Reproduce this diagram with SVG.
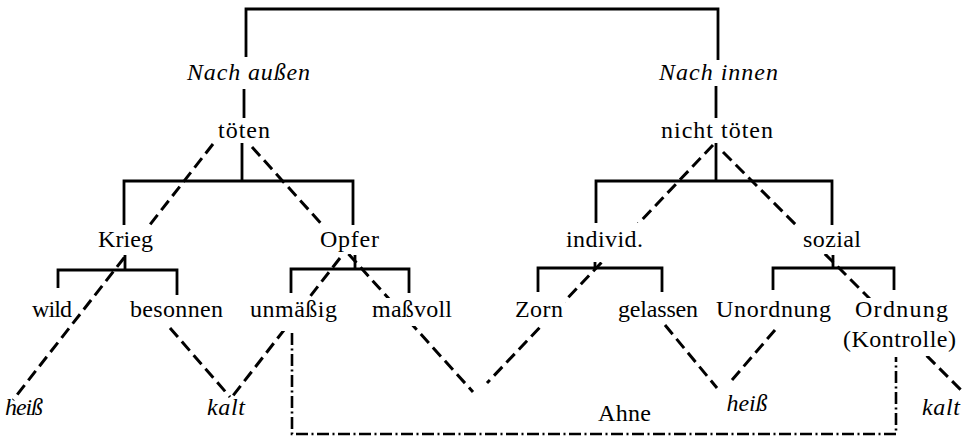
<svg xmlns="http://www.w3.org/2000/svg" width="966" height="437" viewBox="0 0 966 437">
<style>
text{font-family:"Liberation Serif",serif;font-size:24px;fill:#000;text-anchor:middle}
.i{font-style:italic}
.s{stroke:#000;stroke-width:2.8;fill:none}
.d{stroke-width:3;stroke-dasharray:12 6}
.dd{stroke-width:2.6;stroke-dasharray:12 3.5 2 3.5}
</style>
<defs>
<mask id="m" maskUnits="userSpaceOnUse" x="0" y="0" width="966" height="437">
<rect x="0" y="0" width="966" height="437" fill="#fff"/>
<rect x="96" y="226" width="60" height="28" fill="#000"/>
<rect x="318" y="226" width="63" height="28" fill="#000"/>
<rect x="248" y="299" width="91" height="32" fill="#000"/>
<rect x="370" y="298" width="84" height="28" fill="#000"/>
<rect x="562" y="223" width="85" height="39" fill="#000"/>
<rect x="513" y="298" width="52" height="28" fill="#000"/>
<rect x="795" y="226" width="68" height="28" fill="#000"/>
<rect x="841" y="298" width="117" height="58" fill="#000"/>
</mask>
</defs>
<rect width="966" height="437" fill="#fff"/>
<g id="connectors" mask="url(#m)">
<path class="s" d="M246,57 V9 H718 V60"/>
<path class="s" d="M244,89 V118"/>
<path class="s" d="M716,86 V118"/>
<path class="s" d="M242,143 V181 M124,225 V181 H353 V225"/>
<path class="s" d="M716,143 V181 M596,225 V181 H832 V225"/>
<path class="s" d="M125,255 V270 M58,288 V270 H177 V295"/>
<path class="s" d="M355,255 V269 M291,293 V269 H409 V293"/>
<path class="s" d="M595,252 V268 M538,292 V268 H662 V292"/>
<path class="s" d="M833,255 V268 M773,290 V268 H894 V290"/>
<path class="s d" d="M213,144 L13,400"/>
<path class="s d" d="M252,147 L473,392"/>
<path class="s d" d="M340,258 L232,397"/>
<path class="s d" d="M170,328 L230,397"/>
<path class="s d" d="M713,145 L487,383"/>
<path class="s d" d="M723,152 L963,392"/>
<path class="s d" d="M665,325 L717,388"/>
<path class="s d" d="M775,330 L732,380"/>
<path class="s dd" d="M292,333 V434 H896 V357"/>
</g>
<g id="n-nach-aussen"><text class="i" x="248.5" y="80" textLength="123" lengthAdjust="spacing">Nach außen</text></g>
<g id="n-nach-innen"><text class="i" x="718.5" y="80" textLength="119" lengthAdjust="spacing">Nach innen</text></g>
<g id="n-toeten"><text x="244" y="138" textLength="52" lengthAdjust="spacing">töten</text></g>
<g id="n-nicht-toeten"><text x="717" y="138" textLength="112" lengthAdjust="spacing">nicht töten</text></g>
<g id="n-krieg"><text x="125.5" y="247" textLength="55" lengthAdjust="spacing">Krieg</text></g>
<g id="n-opfer"><text x="349.5" y="247" textLength="59" lengthAdjust="spacing">Opfer</text></g>
<g id="n-individ"><text x="604.5" y="247" textLength="77" lengthAdjust="spacing">individ.</text></g>
<g id="n-sozial"><text x="832" y="247" textLength="58" lengthAdjust="spacing">sozial</text></g>
<g id="n-wild"><text x="52" y="317" textLength="40" lengthAdjust="spacing">wild</text></g>
<g id="n-besonnen"><text x="176.5" y="317" textLength="93" lengthAdjust="spacing">besonnen</text></g>
<g id="n-unmaessig"><text x="293.5" y="317" textLength="87" lengthAdjust="spacing">unmäßig</text></g>
<g id="n-massvoll"><text x="412" y="317" textLength="80" lengthAdjust="spacing">maßvoll</text></g>
<g id="n-zorn"><text x="539" y="317" textLength="48" lengthAdjust="spacing">Zorn</text></g>
<g id="n-gelassen"><text x="658" y="317" textLength="80" lengthAdjust="spacing">gelassen</text></g>
<g id="n-unordnung"><text x="773.5" y="317" textLength="115" lengthAdjust="spacing">Unordnung</text></g>
<g id="n-ordnung"><text x="901.5" y="317" textLength="93" lengthAdjust="spacing">Ordnung</text><text x="899.5" y="347" textLength="113" lengthAdjust="spacing">(Kontrolle)</text></g>
<g id="n-heiss-1"><text class="i" x="24" y="415" textLength="38" lengthAdjust="spacing">heiß</text></g>
<g id="n-kalt-1"><text class="i" x="226" y="415" textLength="38" lengthAdjust="spacing">kalt</text></g>
<g id="n-ahne"><text x="624.5" y="421" textLength="53" lengthAdjust="spacing">Ahne</text></g>
<g id="n-heiss-2"><text class="i" x="747" y="411" textLength="41" lengthAdjust="spacing">heiß</text></g>
<g id="n-kalt-2"><text class="i" x="941" y="415" textLength="38" lengthAdjust="spacing">kalt</text></g>
</svg>
